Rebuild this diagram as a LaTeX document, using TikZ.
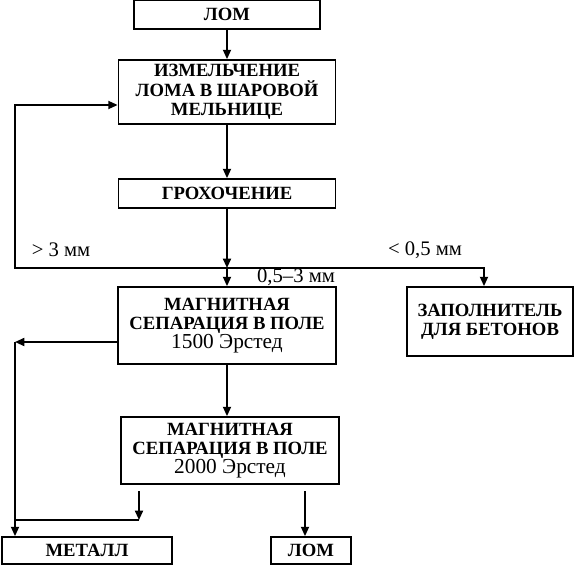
\documentclass[tikz,border=0pt]{standalone}
\usepackage{fontspec}
\setmainfont{Liberation Serif}
\usetikzlibrary{arrows.meta}
\tikzstyle{arrow} = [line width=1.3pt,->,>={Triangle[length=7pt,width=6pt]}]
\tikzstyle{line} = [line width=1.3pt]
\tikzstyle{box} = [draw,line width=1.3pt,rectangle,inner sep=0pt,align=center,font=\fontsize{14}{14.5}\selectfont\bfseries]
\tikzstyle{lbl} = [inner sep=0pt,font=\fontsize{15.5}{16}\selectfont]
\newcommand{\oersted}[1]{{\mdseries\fontsize{16}{14.5}\selectfont #1}}

\begin{document}
\begin{tikzpicture}[x=0.75pt,y=-0.75pt]
    \useasboundingbox (0,0) rectangle (575,567);
    \node[box,minimum width=139.5pt,minimum height=21.75pt] (lomA) at (227,14.5) {ЛОМ};
    \node[box,minimum width=162.75pt,minimum height=48pt] (mill) at (227,92) {ИЗМЕЛЬЧЕНИЕ\\ЛОМА В ШАРОВОЙ\\МЕЛЬНИЦЕ};
    \node[box,minimum width=162.75pt,minimum height=21.75pt] (screen) at (227,193.5) {ГРОХОЧЕНИЕ};
    \node[box,minimum width=163.5pt,minimum height=57.75pt] (magA) at (227,325.5) {МАГНИТНАЯ\\СЕПАРАЦИЯ В ПОЛЕ\\\oersted{1500 Эрстед}};
    \node[box,minimum width=124.5pt,minimum height=51.75pt] (filler) at (490,321.5) {ЗАПОЛНИТЕЛЬ\\ДЛЯ БЕТОНОВ};
    \node[box,minimum width=163.5pt,minimum height=50.25pt] (magB) at (230,450.5) {МАГНИТНАЯ\\СЕПАРАЦИЯ В ПОЛЕ\\\oersted{2000 Эрстед}};
    \node[box,minimum width=127.5pt,minimum height=20.25pt] (metal) at (87,550.5) {МЕТАЛЛ};
    \node[box,minimum width=60pt,minimum height=20.25pt] (lomB) at (311,550.5) {ЛОМ};

    \coordinate (split) at (227,268);
    \coordinate (left) at (15,268);
    \coordinate (right) at (484,268);
    \coordinate (back) at (15,105);
    \coordinate (magout) at (15,342);
    \coordinate (mbA) at (139,491);
    \coordinate (mbB) at (139,520);
    \coordinate (lbA) at (305,491);

    \node[lbl] (gt) at (61,250) {> 3 мм};
    \node[lbl] (lt) at (425,250) {< 0,5 мм};
    \node[lbl] (mid) at (296,277) {0,5–3 мм};

    \draw[arrow] (lomA) -- (mill);
    \draw[arrow] (mill) -- (screen);
    \draw[arrow] (screen.south) -- (split);
    \draw[arrow] (split) -- (split |- magA.north);
    \draw[arrow] (split) -- (left) -- (back) -- (back -| mill.west);
    \draw[arrow] (split) -- (right) -- (right |- filler.north);
    \draw[arrow] (magA.west |- magout) -- (magout);
    \draw[arrow] (magout) -- (magout |- metal.north);
    \draw[arrow] (magA.south) -- (magA.south |- magB.north);
    \draw[arrow] (mbA) -- (mbB);
    \draw[line] (mbB) -- (mbB -| magout);
    \draw[arrow] (lbA) -- (lbA |- lomB.north);
\end{tikzpicture}
\end{document}
